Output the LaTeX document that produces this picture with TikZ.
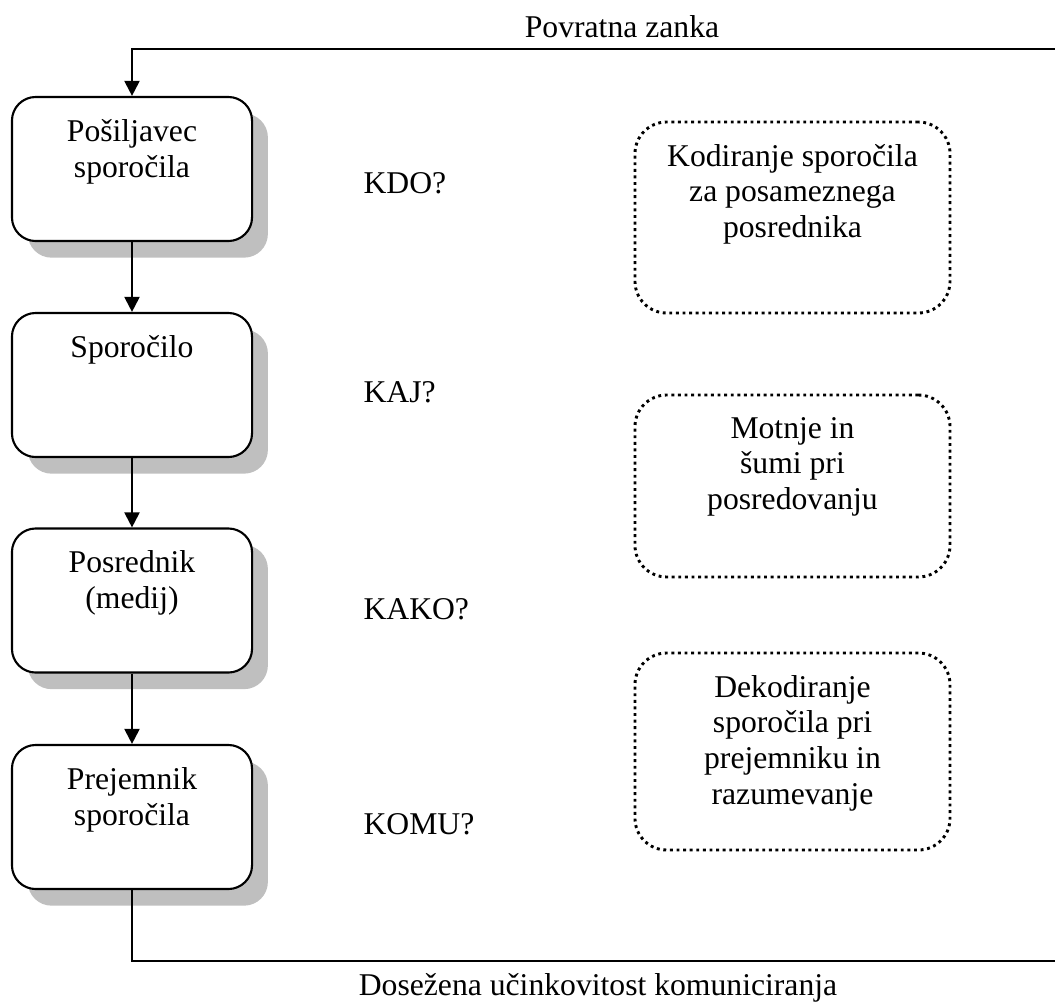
\documentclass[tikz,border=0pt]{standalone}
\usepackage{fontspec}
\setmainfont{Liberation Serif}
\usetikzlibrary{arrows.meta,shadows}
\begin{document}
\begin{tikzpicture}
[x=0.379pt,y=-0.379pt,
  boxDecorate/.style={shape=rectangle,rounded corners=9pt,draw,line width=0.8pt,fill=white,
    minimum width=91pt,minimum height=54.6pt,inner sep=0pt,
    drop shadow={shadow xshift=6pt,shadow yshift=-6.3pt,fill=black!25,opacity=1}},
  dotDecorate/.style={shape=rectangle,rounded corners=12pt,draw,line width=1.1pt,
    dash pattern=on 1.1pt off 1.4pt,minimum width=119.4pt,inner sep=0pt},
  textDecorate/.style={anchor=north,align=center,inner sep=0pt,
    font=\fontsize{12}{13.6}\selectfont},
  labelDecorate/.style={inner sep=0pt,font=\fontsize{12}{13.6}\selectfont},
  lineDecorate/.style={-{Triangle[width=5.7pt,length=5.7pt]},line width=0.8pt}]
\useasboundingbox (0,0) rectangle (1055,1005);
%% process boxes with shadow
\foreach \nodename/\y/\txt in {
  sender/169/{Pošiljavec\\sporočila}, msg/385/{Sporočilo},
  medium/600.5/{Posrednik\\(medij)}, receiver/817/{Prejemnik\\sporočila}}
{
  \node (\nodename) at (132,\y) [boxDecorate] {};
  \node at ([yshift=-8.7pt]\nodename.north) [textDecorate] {\txt};
}
%% dotted boxes
\foreach \nodename/\y/\h/\txt in {
  encode/217.5/191/{Kodiranje sporočila\\za posameznega\\posrednika},
  noise/486/182/{Motnje in\\šumi pri\\posredovanju},
  decode/751.5/197/{Dekodiranje\\sporočila pri\\prejemniku in\\razumevanje}}
{
  \node (\nodename) at (792.5,\y) [dotDecorate,minimum height=\h*0.379pt] {};
  \node at ([yshift=-8.7pt]\nodename.north) [textDecorate] {\txt};
}
%% questions
\foreach \nodename/\y/\txt in {
  who/183/KDO?, what/392/KAJ?, how/609/KAKO?, whom/824/KOMU?}
{
  \node (\nodename) at (363,\y) [labelDecorate,anchor=west] {\txt};
}
\node (feedback) at (622,27) [labelDecorate] {Povratna zanka};
\node (result) at (598,988) [labelDecorate] {Dosežena učinkovitost komuniciranja};
%% edges or lines
\path
\foreach \startnode/\endnode in {sender/msg, msg/medium, medium/receiver}
{
  (\startnode) edge[lineDecorate] (\endnode)
};
\coordinate (loopSE) at (1062,961);
\coordinate (loopNE) at (1062,49);
\draw[lineDecorate] (receiver.south) |- (loopSE) -- (loopNE) -| (sender.north);
\end{tikzpicture}
\end{document}
